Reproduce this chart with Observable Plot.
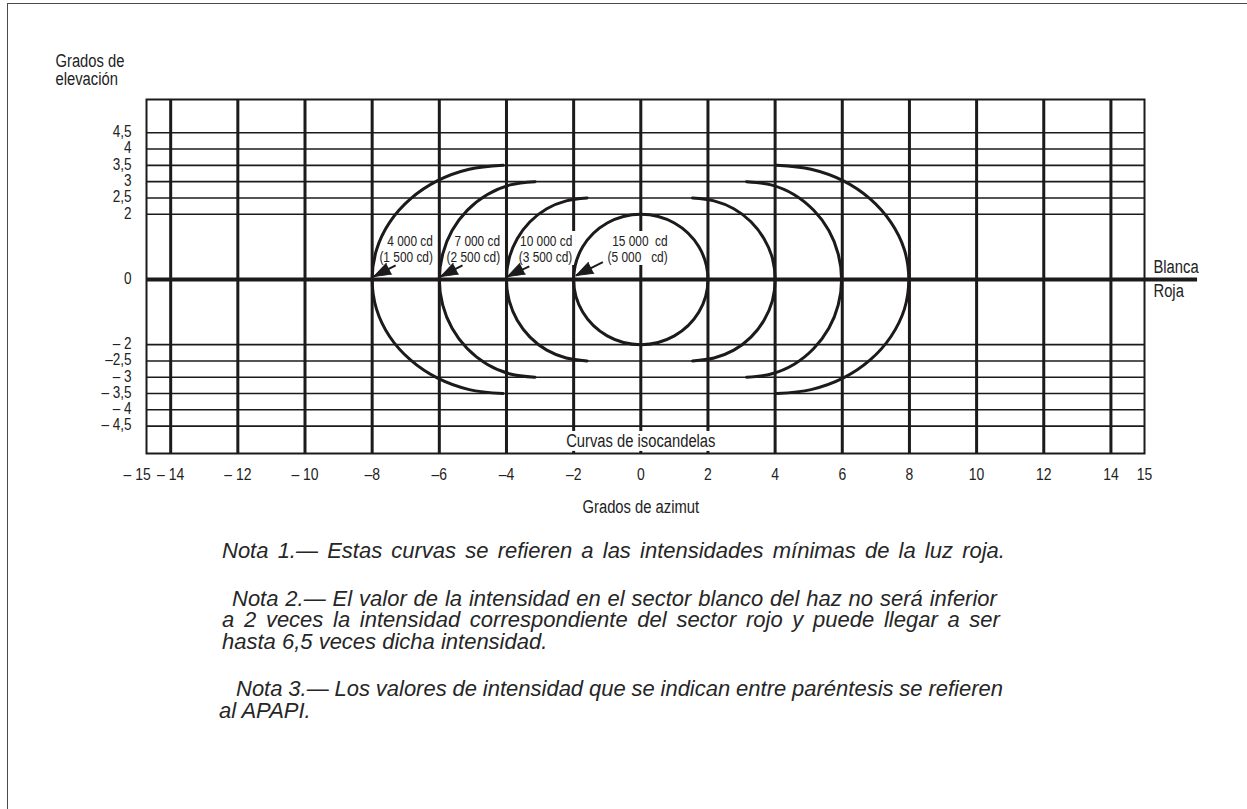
<!DOCTYPE html>
<html>
<head>
<meta charset="utf-8">
<script src="https://cdn.jsdelivr.net/npm/d3@7"></script>
<script src="https://cdn.jsdelivr.net/npm/@observablehq/plot@0.6"></script>
<style>
  html, body { margin: 0; padding: 0; background: #fff; }
  body { width: 1247px; height: 809px; overflow: hidden; position: relative; }
  #border { position: absolute; left: 7px; top: 3px; right: -4px; bottom: -4px;
            border-top: 1.5px solid #4a4a4a; border-left: 1.5px solid #4a4a4a; }
  #chart { position: absolute; left: 0; top: 0; }
  #notes { position: absolute; left: 222px; top: 540px; width: 790px;
           font-family: "Liberation Sans", Arial, sans-serif; font-style: italic;
           font-size: 22px; line-height: 21.5px; color: #262626; }
  .note { margin-bottom: 26px; }
  .line { white-space: nowrap; }
  .just { display: flex; justify-content: space-between; }
</style>
</head>
<body>
<div id="border"></div>
<div id="chart"></div>
<div id="notes"></div>
<script>
// ---------- data ----------
const xTicks = [-15, -14, -12, -10, -8, -6, -4, -2, 0, 2, 4, 6, 8, 10, 12, 14, 15];
const xTickLabels = ["– 15", "– 14", "– 12", "– 10", "–8", "–6", "–4", "–2", "0", "2", "4", "6", "8", "10", "12", "14", "15"];
const xGrid = [-14, -12, -10, -8, -6, -4, -2, 0, 2, 4, 6, 8, 10, 12, 14];
const yTicks = [4.5, 4, 3.5, 3, 2.5, 2, 0, -2, -2.5, -3, -3.5, -4, -4.5];
const yTickLabels = ["4,5", "4", "3,5", "3", "2,5", "2", "0", "– 2", "–2,5", "– 3", "– 3,5", "– 4", "– 4,5"];
const yGrid = [4.5, 4, 3.5, 3, 2.5, 2, -2, -2.5, -3, -3.5, -4, -4.5];

// isocandela curves (azimut, elevación)
const arc4000Left = [[-4.1, 3.5], [-5.11, 3.38], [-6.05, 3.03], [-6.86, 2.47], [-7.48, 1.75], [-7.87, 0.91], [-8.0, 0],
  [-7.87, -0.91], [-7.48, -1.75], [-6.86, -2.47], [-6.05, -3.03], [-5.11, -3.38], [-4.1, -3.5]];
const arc7000Left = [[-3.15, 3.0], [-3.89, 2.9], [-4.58, 2.6], [-5.17, 2.12], [-5.62, 1.5], [-5.9, 0.78], [-6.0, 0],
  [-5.9, -0.78], [-5.62, -1.5], [-5.17, -2.12], [-4.58, -2.6], [-3.89, -2.9], [-3.15, -3.0]];
const arc10000Left = [[-1.6, 2.5], [-2.22, 2.41], [-2.8, 2.17], [-3.3, 1.77], [-3.68, 1.25], [-3.92, 0.65], [-4.0, 0],
  [-3.92, -0.65], [-3.68, -1.25], [-3.3, -1.77], [-2.8, -2.17], [-2.22, -2.41], [-1.6, -2.5]];
const circle15000 = [[2, 0], [1.73, 1], [1, 1.73], [0, 2], [-1, 1.73], [-1.73, 1], [-2, 0],
  [-1.73, -1], [-1, -1.73], [0, -2], [1, -1.73], [1.73, -1]];
const arc10000Right = [[1.54, 2.5], [2.18, 2.41], [2.77, 2.17], [3.28, 1.77], [3.67, 1.25], [3.92, 0.65], [4.0, 0],
  [3.92, -0.65], [3.67, -1.25], [3.28, -1.77], [2.77, -2.17], [2.18, -2.41], [1.54, -2.5]];
const arc7000Right = [[3.15, 3.0], [3.88, 2.9], [4.57, 2.6], [5.15, 2.12], [5.6, 1.5], [5.88, 0.78], [5.98, 0],
  [5.88, -0.78], [5.6, -1.5], [5.15, -2.12], [4.57, -2.6], [3.88, -2.9], [3.15, -3.0]];
const arc4000Right = [[4.05, 3.5], [5.07, 3.38], [6.02, 3.03], [6.83, 2.47], [7.45, 1.75], [7.85, 0.91], [7.98, 0],
  [7.85, -0.91], [7.45, -1.75], [6.83, -2.47], [6.02, -3.03], [5.07, -3.38], [4.05, -3.5]];

// intensity labels
const labelX = [-6.19, -4.19, -2.04, 0.8];
const labelY = [0.95, 0.95, 0.95, 0.95];
const labelText = ["4 000 cd\n(1 500 cd)", "7 000 cd\n(2 500 cd)", "10 000 cd\n(3 500 cd)", "15 000\u00a0\u00a0cd\n(5 000\u00a0\u00a0\u00a0cd)"];
const arrowFrom = [[-7.30, 0.43], [-5.31, 0.43], [-3.32, 0.40], [-1.13, 0.53]];
const arrowTo = [[-7.95, 0.09], [-5.96, 0.09], [-3.97, 0.09], [-1.93, 0.12]];

// notes: [text, first-line indent (px), right edge of justified line (px) or null]
const note1 = [["Nota 1.— Estas curvas se refieren a las intensidades mínimas de la luz roja.", 0, 1005]];
const note2 = [["Nota 2.— El valor de la intensidad en el sector blanco del haz no será inferior", 10, 997],
  ["a 2 veces la intensidad correspondiente del sector rojo y puede llegar a ser", 0, 1000],
  ["hasta 6,5 veces dicha intensidad.", 0, null]];
const note3 = [["Nota 3.— Los valores de intensidad que se indican entre paréntesis se refieren", 14, 1003],
  ["al APAPI.", -3, null]];

// ---------- chart ----------
const INK = "#1c1a1a";
const FONT = '"Liberation Sans", Arial, sans-serif';
const X_MIN = -14.72, X_MAX = 15, ZERO_END = 16.58;
const CONDENSE = 0.82; // imitate a narrow sans face

const labels = labelX.map((x, i) => ({x, y: labelY[i], text: labelText[i]}));
const arrows = arrowFrom.map((f, i) => ({x1: f[0], y1: f[1], x2: arrowTo[i][0], y2: arrowTo[i][1]}));
const arcs = [arc4000Left, arc7000Left, arc10000Left, arc10000Right, arc7000Right, arc4000Right];
const pt = {x: d => d[0], y: d => d[1]};

const chart = Plot.plot({
  width: 1247, height: 530,
  marginLeft: 146, marginRight: 103, marginTop: 99, marginBottom: 77,
  x: {type: "linear", domain: [X_MIN, X_MAX], axis: null},
  y: {type: "linear", domain: [-5.34, 5.52], axis: null},
  style: {background: "transparent", color: INK, fontFamily: FONT, fontSize: "18px", overflow: "visible"},
  marks: [
    Plot.ruleY(yGrid, {stroke: INK, strokeWidth: 1.6}),
    Plot.ruleX(xGrid, {stroke: INK, strokeWidth: 3}),
    Plot.ruleY([0], {x1: X_MIN, x2: ZERO_END, stroke: INK, strokeWidth: 4}),
    // white label backgrounds (interrupting grid lines as in the figure)
    Plot.rect(labels.slice(2), {x1: "x", x2: "x", y1: "y", y2: "y", fill: "white",
      insetLeft: -58, insetRight: -4, insetTop: -17, insetBottom: -17}),
    Plot.rect([-4.97], {x1: 0, x2: 0, y1: d => d, y2: d => d, fill: "white",
      insetLeft: -90, insetRight: -90, insetTop: -10, insetBottom: -10}),
    Plot.frame({stroke: INK, strokeWidth: 2}),
    ...arcs.map(a => Plot.line(a, {...pt, curve: "catmull-rom", stroke: INK, strokeWidth: 3})),
    Plot.line(circle15000, {...pt, curve: "catmull-rom-closed", stroke: INK, strokeWidth: 3}),
    Plot.link(arrows, {x1: "x1", y1: "y1", x2: "x2", y2: "y2", stroke: INK, strokeWidth: 2}),
    Plot.vector(arrows, {x: "x2", y: "y2", rotate: 243, length: 17, r: 6, shape: "spike", anchor: "end",
      fill: INK, stroke: INK, strokeWidth: 1}),
    Plot.text(labels, {x: "x", y: "y", text: "text", textAnchor: "end", lineAnchor: "middle",
      lineHeight: 1.12, fontSize: 14.5, fill: "#222"}),
    // axis tick labels
    Plot.text(yTicks, {y: d => d, text: yTickLabels, frameAnchor: "left", dx: -15, textAnchor: "end",
      lineAnchor: "middle", dy: -1, fontSize: 16.5, fill: "#222"}),
    Plot.text(xTicks, {x: d => d, text: xTickLabels, frameAnchor: "bottom", dy: 21, textAnchor: "middle",
      lineAnchor: "middle", fontSize: 17, fill: "#222"}),
    // titles
    Plot.text(["Grados de\nelevación"], {frameAnchor: "top-left", dx: -91, dy: -29, textAnchor: "start",
      lineAnchor: "middle", lineHeight: 1.0, fontSize: 18, fill: "#222"}),
    Plot.text(["Grados de azimut"], {x: [0], frameAnchor: "bottom", dy: 54, textAnchor: "middle",
      lineAnchor: "middle", fontSize: 18, fill: "#222"}),
    Plot.text(["Curvas de isocandelas"], {x: [0], y: [-4.97], textAnchor: "middle", lineAnchor: "middle",
      fontSize: 18, fill: "#222"}),
    Plot.text(["Blanca"], {y: [0], frameAnchor: "right", dx: 9, dy: -12, textAnchor: "start",
      lineAnchor: "middle", fontSize: 18, fill: "#222"}),
    Plot.text(["Roja"], {y: [0], frameAnchor: "right", dx: 9, dy: 12, textAnchor: "start",
      lineAnchor: "middle", fontSize: 18, fill: "#222"})
  ]
});
document.getElementById("chart").append(chart);

// narrow the chart lettering (the figure uses a condensed sans)
chart.querySelectorAll("text").forEach(t => {
  const spans = t.querySelectorAll("tspan");
  const targets = spans.length ? Array.from(spans) : [t];
  targets.forEach(el => {
    const w = el.getComputedTextLength();
    if (w > 0) {
      el.setAttribute("textLength", (w * CONDENSE).toFixed(2));
      el.setAttribute("lengthAdjust", "spacingAndGlyphs");
    }
  });
});

// ---------- notes ----------
const NOTES_LEFT = 222;
const notesEl = document.getElementById("notes");
for (const lines of [note1, note2, note3]) {
  const block = document.createElement("div");
  block.className = "note";
  for (const [line, indent, right] of lines) {
    const div = document.createElement("div");
    div.className = "line";
    div.style.marginLeft = indent + "px";
    if (right !== null) {
      div.classList.add("just");
      div.style.width = (right - NOTES_LEFT - indent) + "px";
      for (const w of line.split(" ")) {
        const s = document.createElement("span");
        s.textContent = w;
        div.append(s);
      }
    } else {
      div.textContent = line;
    }
    block.append(div);
  }
  notesEl.append(block);
}
</script>
</body>
</html>
